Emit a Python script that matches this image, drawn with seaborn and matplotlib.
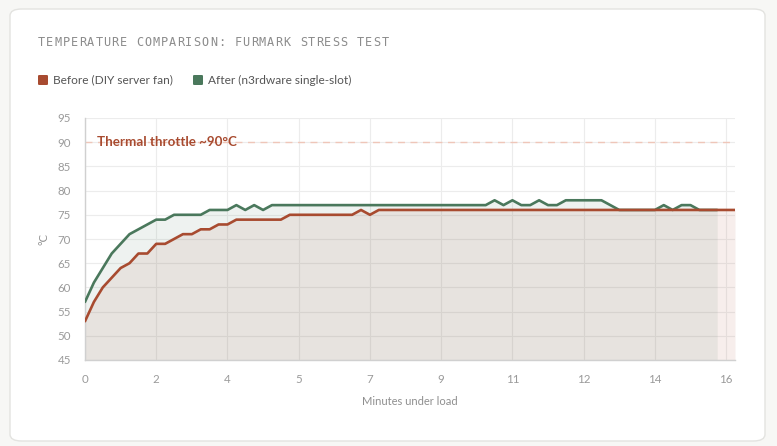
import numpy as np
import pandas as pd
import seaborn as sns
import matplotlib.pyplot as plt
from matplotlib.patches import FancyBboxPatch

# readings, one every ~13 s (8 samples between labelled ticks)
before_temps = [53, 57, 60, 62, 64, 65, 67, 67, 69, 69, 70, 71, 71, 72, 72, 73, 73,
                74, 74, 74, 74, 74, 74,
                75, 75, 75, 75, 75, 75, 75, 75,
                76, 75,
                76, 76, 76, 76, 76, 76, 76, 76, 76, 76, 76, 76, 76, 76, 76, 76, 76, 76, 76, 76,
                76, 76, 76, 76, 76, 76, 76, 76, 76, 76, 76, 76, 76, 76, 76, 76, 76, 76, 76, 76, 76]
after_temps = [57, 61, 64, 67, 69, 71, 72, 73, 74, 74, 75, 75, 75, 75, 76, 76, 76,
               77, 76, 77, 76,
               77, 77, 77, 77, 77, 77, 77, 77, 77, 77, 77, 77, 77, 77, 77, 77, 77, 77, 77, 77,
               77, 77, 77, 77, 77,
               78, 77, 78, 77, 77, 78, 77, 77, 78, 78, 78, 78, 78, 77,
               76, 76, 76, 76, 76, 77, 76, 77, 77, 76, 76, 76]
minute_labels = ["0", "2", "4", "5", "7", "9", "11", "12", "14", "16"]
label_every = 8
series_names = ["Before (DIY server fan)", "After (n3rdware single-slot)"]
colors = {"Before (DIY server fan)": "#a84b30", "After (n3rdware single-slot)": "#4a785c"}
throttle = 90

df = pd.concat([
    pd.DataFrame({"sample": np.arange(len(before_temps)), "temp": before_temps, "series": series_names[0]}),
    pd.DataFrame({"sample": np.arange(len(after_temps)), "temp": after_temps, "series": series_names[1]}),
])

sns.set_theme(style="white")
plt.rcParams['font.family'] = ['Lato', 'DejaVu Sans']

fig = plt.figure(figsize=(7.77, 4.46), dpi=100, facecolor="#f7f7f5")
card = FancyBboxPatch((10/777, 5/446), 755/777, 432/446, boxstyle="round,pad=0,rounding_size=0.015",
                      transform=fig.transFigure, facecolor="white", edgecolor="#e3e3e0", lw=1, zorder=-5)
fig.patches.append(card)

ax = fig.add_axes([85/777, 1-360/446, 650/777, 242/446])
ax.set_facecolor("none")
ax.set_zorder(2)

# area fills first, then lines (red on top)
for name, temps in [(series_names[0], before_temps), (series_names[1], after_temps)]:
    ax.fill_between(np.arange(len(temps)), 0, temps, color=colors[name], alpha=0.09, lw=0, zorder=1)

sns.lineplot(data=df, x="sample", y="temp", hue="series", hue_order=series_names[::-1],
             palette=colors, linewidth=1.9, legend=False, ax=ax, zorder=3)

ax.axhline(throttle, color="#efc6b9", ls=(0, (5, 4)), lw=1, zorder=2)
ax.text(1.3, throttle, "Thermal throttle ~90°C", va="center", ha="left", color="#a84b30",
        fontsize=9.6, fontweight="bold", zorder=4)

ax.set_xlim(0, len(before_temps) - 1)
ax.set_ylim(45, 95)
ax.set_yticks(range(45, 96, 5))
ax.set_xticks(np.arange(len(minute_labels)) * label_every)
ax.set_xticklabels(minute_labels)
ax.grid(True, color="#ececec", lw=0.8, zorder=0)
ax.set_axisbelow(True)
for s in ["top", "right"]:
    ax.spines[s].set_visible(False)
for s in ["left", "bottom"]:
    ax.spines[s].set_color("#d0d0d0")
    ax.spines[s].set_linewidth(1)
ax.tick_params(axis="both", colors="#ececec", labelcolor="#9a9a9a", labelsize=8.3, length=6, width=0.8, pad=4)
ax.set_xlabel("Minutes under load", color="#8f8f8f", fontsize=8, labelpad=8)
ax.set_ylabel("°C", color="#8f8f8f", fontsize=8, labelpad=6)

# title with wide letter spacing
title = "TEMPERATURE COMPARISON: FURMARK STRESS TEST"
for i, ch in enumerate(title):
    fig.text((38 + i * 8.18) / 777, 1 - 43/446, ch, family="DejaVu Sans Mono", fontsize=8.6,
             color="#8c8c8c", va="center", ha="left")

# legend
for name, x0 in [(series_names[0], 38), (series_names[1], 193)]:
    sq = FancyBboxPatch((x0/777, 1 - 85/446), 10/777, 10/446, boxstyle="round,pad=0,rounding_size=0.002",
                        transform=fig.transFigure, facecolor=colors[name], edgecolor="none")
    fig.patches.append(sq)
    fig.text((x0 + 15)/777, 1 - 80/446, name, fontsize=8.6, color="#555555", va="center", ha="left")

fig.savefig("out.png", dpi=100, facecolor=fig.get_facecolor())
